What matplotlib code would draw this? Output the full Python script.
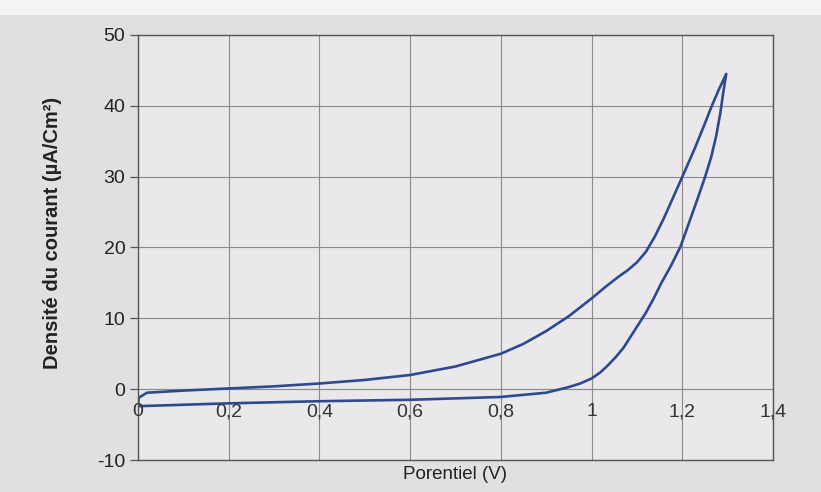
import matplotlib
matplotlib.use("Agg")
import matplotlib.pyplot as plt
from matplotlib.patches import Rectangle

# aller (balayage positif)
pot_aller = [0.0, 0.002, 0.02, 0.1, 0.2, 0.3, 0.4, 0.5, 0.6, 0.7, 0.8, 0.85,
             0.9, 0.95, 1.0, 1.03, 1.06, 1.08, 1.1, 1.12, 1.14, 1.16, 1.192,
             1.21, 1.229, 1.248, 1.264, 1.28, 1.297]
dens_aller = [-2.3, -1.2, -0.5, -0.2, 0.1, 0.4, 0.8, 1.3, 2.0, 3.2, 5.0, 6.4,
              8.2, 10.3, 12.8, 14.4, 15.9, 16.8, 17.9, 19.4, 21.6, 24.2, 28.8,
              31.4, 34.2, 37.2, 39.8, 42.2, 44.5]

# retour (balayage negatif)
pot_retour = [1.297, 1.29, 1.284, 1.275, 1.264, 1.25, 1.235, 1.215, 1.196,
              1.175, 1.154, 1.137, 1.119, 1.1, 1.085, 1.07, 1.053, 1.035,
              1.02, 1.0, 0.975, 0.95, 0.9, 0.8, 0.7, 0.6, 0.4, 0.2, 0.1, 0.0]
dens_retour = [44.5, 41.7, 39.0, 35.8, 32.8, 29.9, 27.1, 23.5, 20.1,
               17.4, 15.0, 12.8, 10.7, 8.8, 7.3, 5.8, 4.5, 3.3,
               2.4, 1.5, 0.8, 0.3, -0.5, -1.1, -1.3, -1.5, -1.7, -2.0, -2.2, -2.4]

xticks = [0, 0.2, 0.4, 0.6, 0.8, 1.0, 1.2, 1.4]
xtick_labels = ["0", "0,2", "0,4", "0,6", "0,8", "1", "1,2", "1,4"]
yticks = [-10, 0, 10, 20, 30, 40, 50]

plt.rcParams["font.family"] = ["Liberation Sans", "DejaVu Sans"]
plt.rcParams["axes.unicode_minus"] = False

fig = plt.figure(figsize=(8.21, 4.92), dpi=100)
fig.patch.set_facecolor("#e2dfe1")
# bande claire en haut (bord de la capture)
fig.patches.append(Rectangle((0, 0.97), 1, 0.03, transform=fig.transFigure,
                             facecolor="#f4f4f4", edgecolor="none", zorder=0))

ax = fig.add_axes([0.168, 0.065, 0.7735, 0.864])
ax.set_facecolor("#eae8eb")

ax.plot(pot_aller + pot_retour, dens_aller + dens_retour,
        color="#2d4a8e", linewidth=1.9, solid_capstyle="round",
        solid_joinstyle="round")

ax.set_xlim(0, 1.4)
ax.set_ylim(-10, 50)
ax.set_xticks(xticks)
ax.set_yticks(yticks)
ax.set_xticklabels([])
ax.tick_params(axis="x", length=0)
ax.tick_params(axis="y", length=6, width=0.9, color="#555555",
               labelsize=14, pad=3, labelcolor="#222222")
ax.grid(True, color="#8c8a8c", linewidth=0.8)
for s in ax.spines.values():
    s.set_color("#555555")
    s.set_linewidth(1.0)

# axe des abscisses croise a y = 0 (style tableur)
ax.axhline(0, color="#8c8a8c", linewidth=0.8, zorder=1)
for xv, lab in zip(xticks, xtick_labels):
    ax.annotate(lab, (xv, 0), xytext=(0, -10), textcoords="offset points",
                ha="center", va="top", fontsize=14, color="#333333")

ax.set_xlabel("Porentiel (V)", fontsize=13.5, labelpad=1, color="#222222")
ax.set_ylabel("Densité du courant (µA/Cm²)", fontsize=14.5,
              fontweight="bold", color="#222222")
ax.yaxis.set_label_coords(-0.12, 0.535)

fig.savefig("out.png", dpi=100, facecolor=fig.get_facecolor())
